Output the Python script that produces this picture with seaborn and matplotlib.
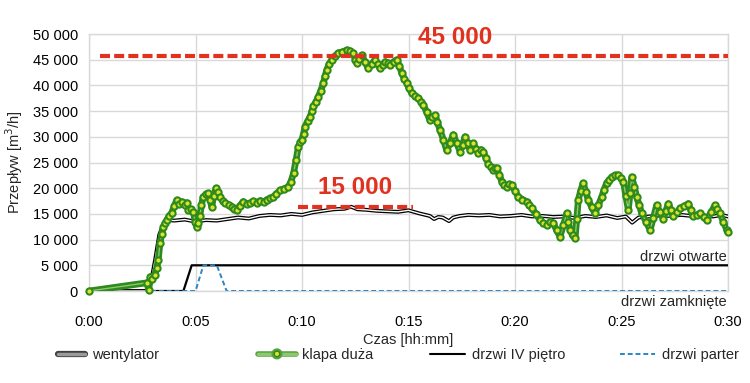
import matplotlib
matplotlib.use("Agg")
import matplotlib.pyplot as plt
import matplotlib.patheffects as pe
from matplotlib.lines import Line2D
from matplotlib.ticker import FuncFormatter
import seaborn as sns
import pandas as pd

# dane (czas w minutach, przeplyw w m3/h)
klapa_t = [0.0, 2.72, 2.80, 2.88, 2.98, 3.08, 3.18, 3.25, 3.33, 3.41, 3.49, 3.57, 3.65, 3.76, 3.88, 4.0, 4.12,
           4.24, 4.35, 4.5, 4.58, 4.66, 4.78, 4.9, 4.98, 5.05, 5.12, 5.2, 5.28, 5.36, 5.48, 5.6, 5.68, 5.76, 5.86,
           5.96, 6.05, 6.15, 6.27, 6.39, 6.55, 6.7, 6.82, 6.93, 7.08, 7.24, 7.4, 7.56, 7.72, 7.88, 8.04, 8.2, 8.36,
           8.5, 8.65, 8.8, 8.97, 9.16, 9.36, 9.48, 9.6, 9.72, 9.83, 9.91, 9.99, 10.07, 10.14, 10.26, 10.38, 10.46,
           10.53, 10.65, 10.77, 10.88, 11.0, 11.08, 11.16, 11.28, 11.39, 11.55, 11.7, 11.9, 12.1, 12.25, 12.4,
           12.5, 12.57, 12.68, 12.8, 12.95, 13.11, 13.27, 13.43, 13.55, 13.66, 13.78, 13.9, 14.02, 14.13, 14.3,
           14.45, 14.57, 14.68, 14.8, 14.92, 15.03, 15.15, 15.3, 15.46, 15.58, 15.7, 15.85, 16.0, 16.12, 16.25,
           16.36, 16.48, 16.64, 16.79, 16.95, 17.1, 17.26, 17.42, 17.54, 17.65, 17.77, 17.89, 18.04, 18.16, 18.28,
           18.4, 18.51, 18.63, 18.75, 18.87, 18.98, 19.06, 19.14, 19.26, 19.38, 19.5, 19.61, 19.73, 19.85, 20.0,
           20.16, 20.35, 20.55, 20.66, 20.78, 20.98, 21.17, 21.33, 21.49, 21.65, 21.8, 21.95, 22.11, 22.27, 22.43,
           22.5, 22.58, 22.7, 22.82, 22.9, 22.97, 23.08, 23.2, 23.32, 23.44, 23.6, 23.75, 23.91, 24.07, 24.18, 24.3,
           24.42, 24.54, 24.7, 24.85, 24.97, 25.09, 25.2, 25.32, 25.4, 25.48, 25.6, 25.71, 25.83, 25.95, 26.15,
           26.34, 26.5, 26.65, 26.8, 26.96, 27.08, 27.2, 27.32, 27.43, 27.6, 27.75, 27.95, 28.14, 28.25, 28.37,
           28.53, 28.69, 28.85, 29.0, 29.2, 29.39, 29.5, 29.62, 29.78, 29.94, 30.0]
klapa_v = [0, 1600, 200, 2800, 2400, 3200, 4500, 6000, 9300, 11000, 12500, 13200, 13800, 14600, 15200, 16500, 17700,
           17000, 17400, 16700, 17200, 15800, 15900, 15400, 13500, 12500, 13200, 14500, 16800, 18300, 18800, 19000,
           17800, 16400, 18500, 20000, 19300, 18300, 17500, 17100, 16800, 16400, 16000, 15800, 16600, 17400, 17000,
           17100, 17500, 17200, 17600, 17300, 17800, 18000, 18300, 18900, 19600, 19900, 20300, 21300, 22900, 25500,
           28100, 28900, 29400, 30600, 32000, 33000, 33900, 35000, 35900, 36800, 37800, 39000, 40400, 41800, 43000,
           44200, 45000, 45700, 46300, 46500, 46900, 46700, 46300, 45000, 44300, 45200, 45900, 44600, 43300, 44200,
           45000, 44200, 43300, 44000, 44600, 44300, 44000, 44600, 45000, 43800, 42400, 41300, 40400, 39400, 38500,
           38000, 37500, 36800, 36200, 34800, 33300, 33900, 34200, 32800, 31300, 29400, 27400, 28800, 30400, 28800,
           27100, 28500, 30000, 28800, 27400, 28700, 27700, 26800, 27500, 27100, 25900, 24800, 24100, 23500, 23900,
           23900, 22600, 21300, 20700, 20300, 20800, 20600, 19500, 18300, 17800, 17400, 16800, 16100, 15000, 13800,
           13200, 12800, 13500, 13200, 11800, 10600, 12800, 15100, 13500, 11900, 10800, 10300, 14000, 17700, 19500,
           21000, 19300, 17700, 16300, 15100, 16700, 18300, 19700, 21000, 21600, 22200, 22500, 22600, 22000, 21300,
           18500, 15800, 19000, 22200, 20300, 18300, 16700, 15100, 13500, 11900, 14300, 16700, 15400, 14100, 15600,
           17000, 15700, 14500, 15300, 16100, 16500, 17000, 15700, 14500, 14800, 15100, 14400, 13800, 15300, 16700,
           15900, 15100, 13500, 11900, 11500]

went_t = [0.0, 2.75, 2.9, 3.1, 3.3, 3.5, 3.7, 4.0, 4.5, 5.0, 5.5, 6.0, 6.5, 7.0, 7.5, 8.0, 8.5, 9.0, 9.5, 10.0,
          10.5, 11.0, 11.5, 12.0, 12.3, 12.6, 13.0, 13.5, 14.0, 14.5, 15.0, 15.5, 16.0, 16.2, 16.4, 16.6, 16.9,
          17.1, 17.4, 17.8, 18.3, 18.8, 19.3, 19.8, 20.3, 20.8, 21.3, 21.8, 22.3, 22.8, 23.3, 23.8, 24.3, 24.8,
          25.2, 25.5, 25.8, 26.3, 26.8, 27.3, 27.8, 28.3, 28.8, 29.3, 29.7, 30.0]
went_v = [0, 0, 1500, 6000, 11000, 13000, 13800, 13700, 13900, 13500, 13800, 13700, 14000, 14300, 14100, 14600,
          14800, 14700, 15000, 14800, 15300, 15600, 15900, 16000, 16400, 15900, 15800, 15600, 15500, 15400, 15700,
          15100, 14600, 14000, 14400, 14300, 13600, 14300, 14600, 14800, 14700, 14800, 14500, 14600, 14800, 14500,
          14600, 14400, 14500, 14200, 14600, 14400, 14700, 14200, 14500, 13300, 14300, 14500, 14700, 14600, 14800,
          14600, 14700, 14500, 14800, 14500]

iv_t = [0.0, 4.43, 4.82, 30.0]
iv_v = [0, 0, 5000, 5000]

parter_t = [0.0, 5.0, 5.37, 6.0, 6.46, 30.0]
parter_v = [0, 0, 5000, 5000, 0, 0]

# linie odniesienia: wartosc, poczatek, koniec, etykieta
ref_v = [45700, 16300]
ref_start = [0.5, 9.8]
ref_end = [30.0, 15.2]
ref_labels = ['45 000', '15 000']

x_ticks = [0, 5, 10, 15, 20, 25, 30]
x_labels = ['0:00', '0:05', '0:10', '0:15', '0:20', '0:25', '0:30']

sns.set_theme(style='whitegrid')
plt.rcParams['font.family'] = ['Liberation Sans', 'DejaVu Sans']
plt.rcParams['axes.unicode_minus'] = False

GREEN_DARK = '#2d8a1c'
GREEN_LIGHT = '#8cc870'
MARKER_FACE = '#dfe22c'
BLUE = '#2c86c4'
RED = '#e0321f'
FS = 10.5

fig = plt.figure(figsize=(7.5, 3.83), dpi=100)
ax = fig.add_axes([0.1187, 0.2402, 0.8520, 0.6710])

df_klapa = pd.DataFrame({'t': klapa_t, 'v': klapa_v})
df_went = pd.DataFrame({'t': went_t, 'v': went_v})
df_iv = pd.DataFrame({'t': iv_t, 'v': iv_v})
df_parter = pd.DataFrame({'t': parter_t, 'v': parter_v})

# drzwi
sns.lineplot(data=df_iv, x='t', y='v', ax=ax, color='black', lw=1.6, estimator=None, sort=False, zorder=3)
sns.lineplot(data=df_parter, x='t', y='v', ax=ax, color=BLUE, lw=1.4, estimator=None, sort=False,
             linestyle=(0, (2.5, 1.5)), zorder=4)

# wentylator - podwojna linia
sns.lineplot(data=df_went, x='t', y='v', ax=ax, color='black', lw=2.8, estimator=None, sort=False, zorder=5)
sns.lineplot(data=df_went, x='t', y='v', ax=ax, color='white', lw=1.0, estimator=None, sort=False, zorder=6)

# klapa duza
sns.lineplot(data=df_klapa, x='t', y='v', ax=ax, color=GREEN_DARK, lw=4.8, estimator=None, sort=False, zorder=7)
sns.lineplot(data=df_klapa, x='t', y='v', ax=ax, color=GREEN_LIGHT, lw=1.0, estimator=None, sort=False, zorder=8)
ax.plot(klapa_t, klapa_v, ls='none', marker='o', ms=4.5, mfc=MARKER_FACE, mec=GREEN_DARK, mew=1.5, zorder=9,
        clip_on=False)

# linie czerwone
for v, a, b in zip(ref_v, ref_start, ref_end):
    ax.plot([a, b], [v, v], color=RED, lw=3.0, ls=(0, (2.4, 1.0)), zorder=10, solid_capstyle='butt')
ax.text(17.2, 49300, ref_labels[0], color=RED, fontsize=17.5, fontweight='bold', ha='center', va='center',
        zorder=11)
ax.text(12.5, 20100, ref_labels[1], color=RED, fontsize=17.5, fontweight='bold', ha='center', va='center',
        zorder=11)

ax.text(29.95, 6700, 'drzwi otwarte', ha='right', va='center', fontsize=FS, zorder=11)
ax.text(29.95, -2200, 'drzwi zamknięte', ha='right', va='center', fontsize=FS, clip_on=False, zorder=11)

ax.set_xlim(0, 30)
ax.set_ylim(0, 50000)
ax.set_xticks(x_ticks)
ax.set_xticklabels(x_labels)
ax.set_yticks(range(0, 50001, 5000))
ax.yaxis.set_major_formatter(FuncFormatter(lambda v, p: f'{int(v):,}'.replace(',', ' ')))
ax.tick_params(axis='both', labelsize=FS, colors='black', length=0)
ax.tick_params(axis='x', pad=17)
ax.tick_params(axis='y', pad=8)
ax.grid(True, color='#d9d9d9', lw=1.0)
for s in ax.spines.values():
    s.set_color('#d9d9d9')
    s.set_linewidth(1.0)
ax.set_xlabel('Czas [hh:mm]', fontsize=FS)
ax.set_ylabel('Przepływ [m$^3$/h]', fontsize=FS)
ax.xaxis.set_label_coords(0.5, -0.162)
ax.yaxis.set_label_coords(-0.10, 0.5)

# legenda - kazdy wpis osobno, jak w oryginale
h_went = Line2D([], [], color='#9a9a9a', lw=2.5,
                path_effects=[pe.Stroke(linewidth=4.5, foreground='#404040'), pe.Normal()])
h_klapa = Line2D([], [], color=GREEN_LIGHT, lw=2.5, marker='o', ms=4, mfc=MARKER_FACE, mec=GREEN_DARK, mew=1,
                 path_effects=[pe.Stroke(linewidth=4.0, foreground='#5aa040'), pe.Normal()])
h_iv = Line2D([], [], color='black', lw=1.5)
h_parter = Line2D([], [], color=BLUE, lw=1.4, ls=(0, (2.5, 1.5)))
entries = [(h_went, 'wentylator', 58, 1.85), (h_klapa, 'klapa duża', 258, 2.6),
           (h_iv, 'drzwi IV piętro', 430, 2.4), (h_parter, 'drzwi parter', 620, 2.4)]
for h, lab, px, hl in entries:
    fig.legend([h], [lab], loc='center left', bbox_to_anchor=(px / 750, 1 - 355 / 383), frameon=False,
               fontsize=FS, handlelength=hl, handletextpad=0.45, borderpad=0, borderaxespad=0)

plt.savefig('out.png', dpi=100)
